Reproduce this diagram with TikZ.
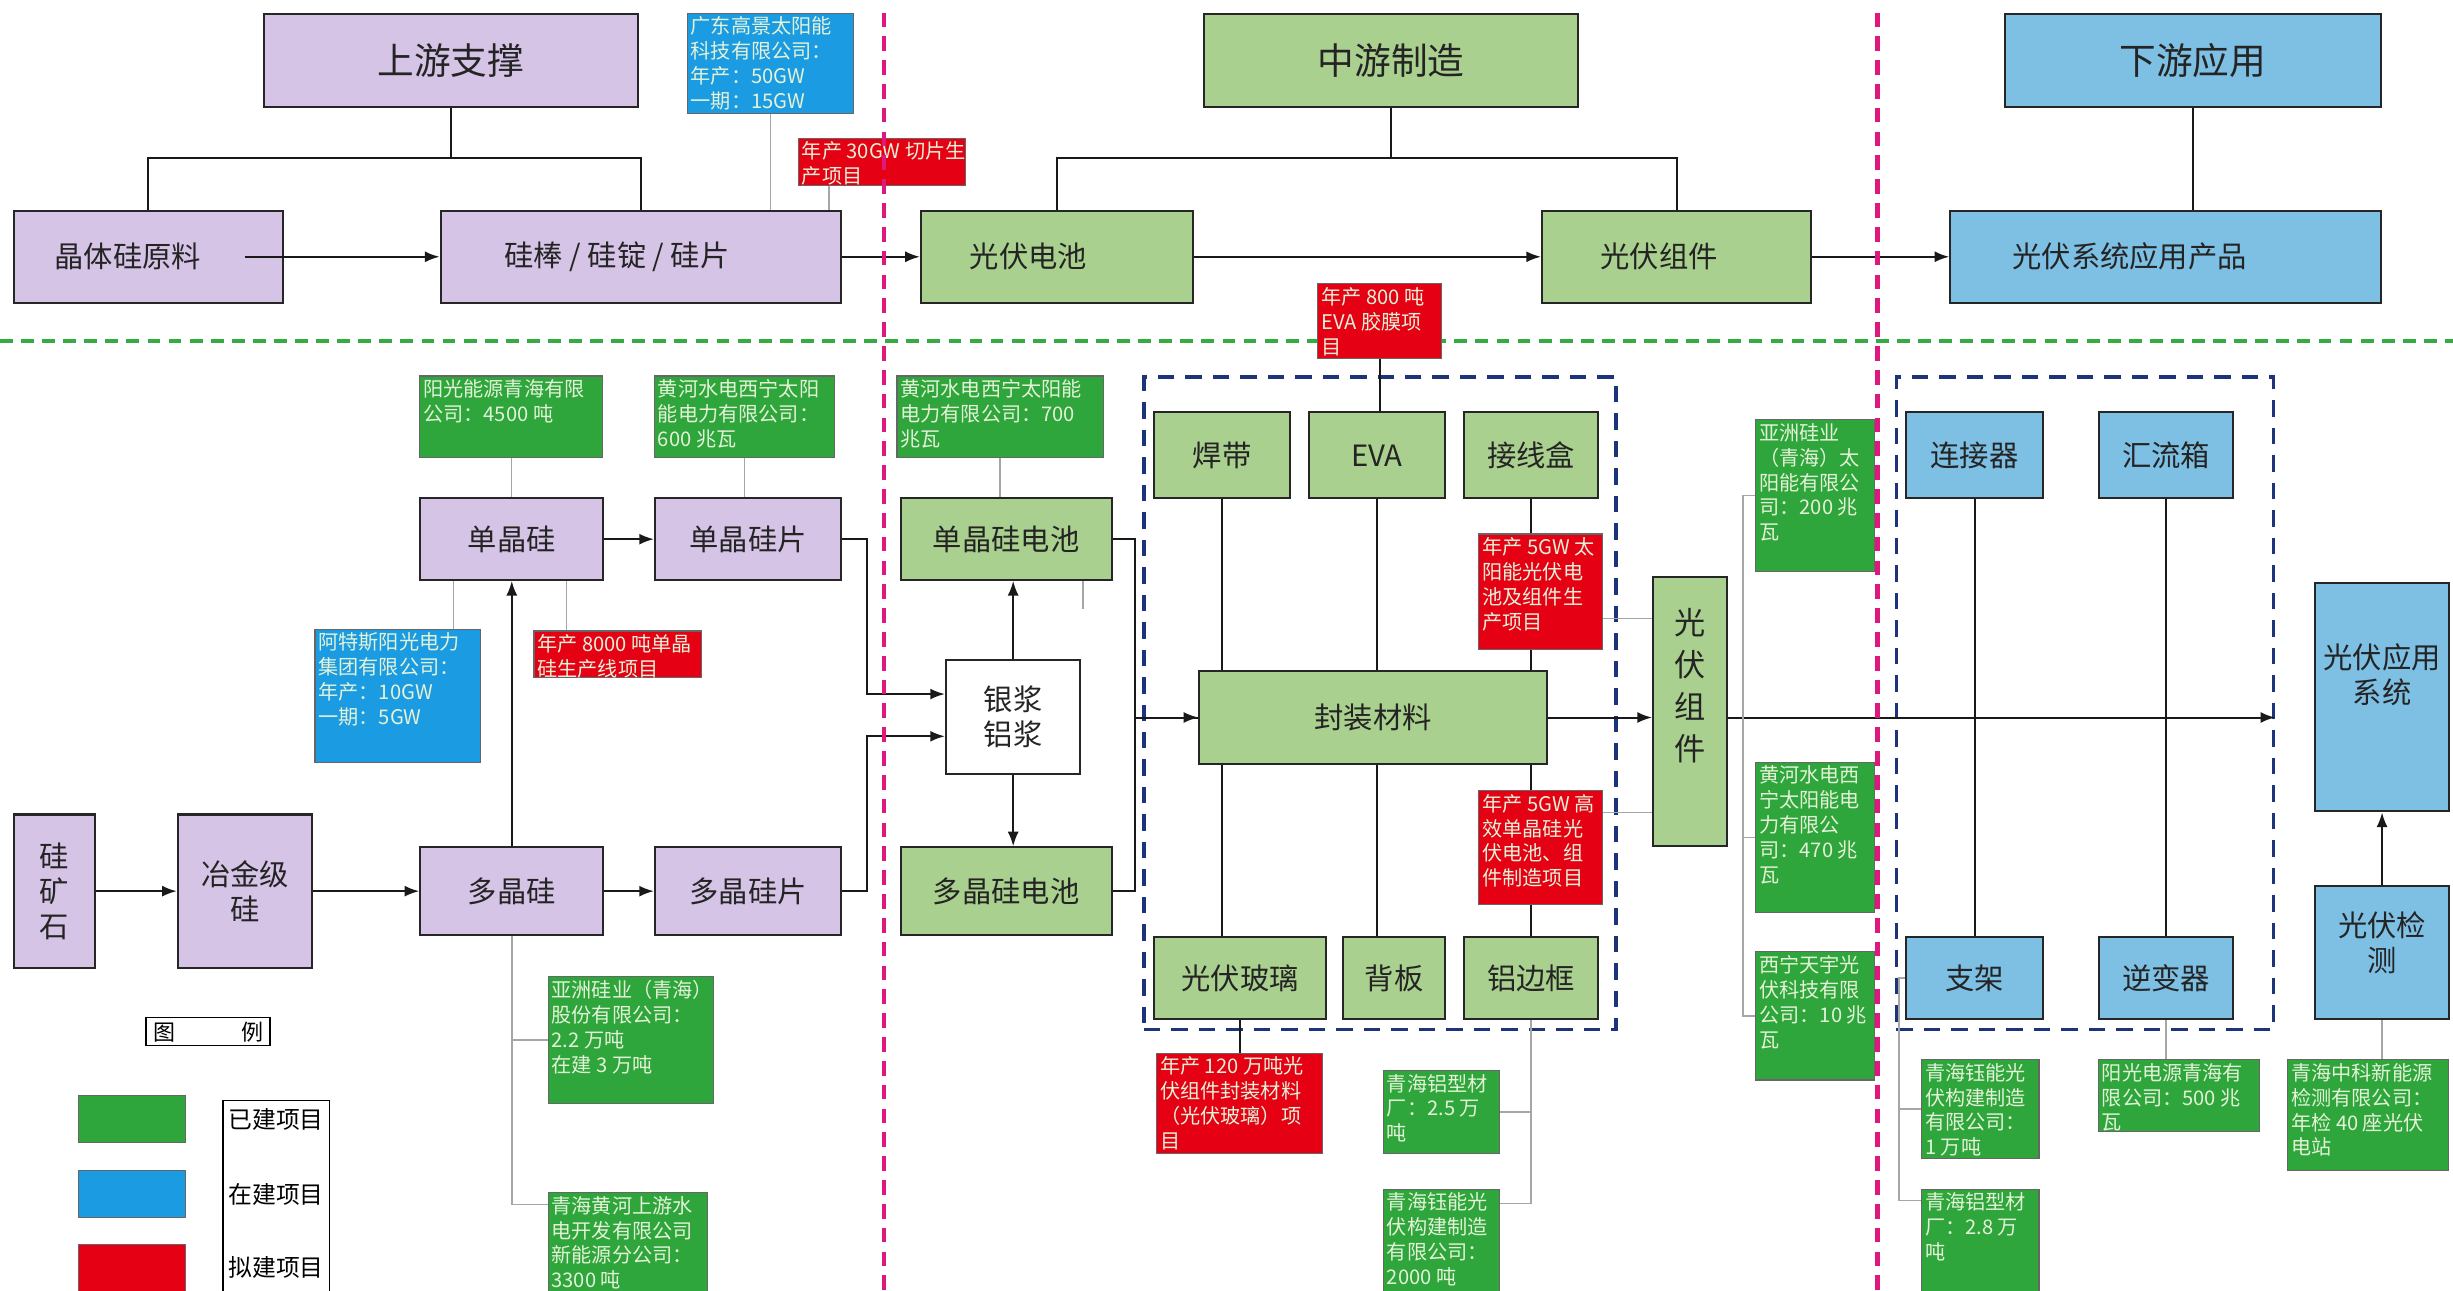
\documentclass[tikz,border=0pt]{standalone}
\usepackage{fontspec}
\setmainfont{Noto Sans CJK SC}
\usetikzlibrary{arrows.meta}
\definecolor{zpurple}{RGB}{214,196,231}
\definecolor{zgreen}{RGB}{169,208,142}
\definecolor{zblue}{RGB}{125,192,228}
\definecolor{cgreen}{RGB}{46,166,60}
\definecolor{cblue}{RGB}{27,155,225}
\definecolor{cred}{RGB}{229,0,20}
\definecolor{ctext}{RGB}{228,242,216}
\definecolor{zpink}{RGB}{222,24,124}
\definecolor{zdash}{RGB}{52,172,64}
\definecolor{znavy}{RGB}{30,52,122}
\definecolor{zink}{RGB}{36,36,36}
\begin{document}
\begin{tikzpicture}[x=0.03cm, y=-0.03cm, >={Latex[length=8pt,width=6pt]},
        corners/.style n args={4}{anchor=north west, at={(#1,#2)}, minimum width={(#3-#1)*0.03cm}, minimum height={(#4-#2)*0.03cm}},
        blk/.style = {draw=black!85, line width=1.1pt, inner sep=0pt, text=zink, align=center, font=\fontsize{16}{19}\selectfont},
        pbox/.style = {blk, fill=zpurple},
        gbox/.style = {blk, fill=zgreen},
        bbox/.style = {blk, fill=zblue},
        titlebox/.style = {font=\fontsize{20}{24}\selectfont},
        co/.style = {draw=black!60, line width=0.6pt, inner sep=0pt},
        cotext/.style = {anchor=north west, align=left, inner sep=2pt, text=ctext, font=\fontsize{11}{13.6}\selectfont},
        conn/.style = {line width=1.1pt, black!90},
        gconn/.style = {line width=0.8pt, black!35},
        grp/.style = {draw=znavy, line width=2pt, dash pattern=on 9pt off 6pt, inner sep=0pt},
        mline/.style = {draw=zpink, line width=2.6pt, dash pattern=on 8pt off 5pt},
        hline/.style = {draw=zdash, line width=2.2pt, dash pattern=on 7pt off 4.5pt}]

            \useasboundingbox (0,0) rectangle (1568,825);
            \fill[white] (0,0) rectangle (1568,825);
            \draw[hline] (0,218) -- (1568,218);

            \node[pbox, titlebox, corners={168}{8}{407}{68}] (sy) {上游支撑};
            \node[gbox, titlebox, corners={769}{8}{1008}{68}] (zy) {中游制造};
            \node[bbox, titlebox, corners={1281}{8}{1521}{68}] (xy) {下游应用};
            \node[pbox, corners={8}{134}{180}{193}] (jt) {晶体硅原料\kern22pt};
            \node[pbox, corners={281}{134}{537}{193}] (gb) {硅棒 / 硅锭 / 硅片\kern26pt};
            \node[gbox, corners={588}{134}{762}{193}] (gc) {光伏电池\kern31pt};
            \node[gbox, corners={985}{134}{1157}{193}] (gzt) {光伏组件\kern19pt};
            \node[bbox, corners={1246}{134}{1521}{193}] (gs) {光伏系统应用产品\kern39pt};

            \node[co, fill=cblue, corners={439}{8}{545}{72}] (gd) {};
            \node[cotext] (gdt) at (gd.north west) {广东高景太阳能\\科技有限公司：\\年产：50GW\\一期：15GW};
            \node[co, fill=cred, corners={510}{88}{617}{118}] (r30) {};
            \node[cotext] (r30t) at (r30.north west) {年产 30GW 切片生\\产项目};
            \node[co, fill=cred, corners={842}{181}{921}{229}] (r800) {};
            \node[cotext] (r800t) at (r800.north west) {年产 800 吨\\EVA 胶膜项\\目};

            \node[co, fill=cgreen, corners={268}{240}{385}{292}] (yg) {};
            \node[cotext] (ygt) at (yg.north west) {阳光能源青海有限\\公司：4500 吨};
            \node[co, fill=cgreen, corners={418}{240}{533}{292}] (hh6) {};
            \node[cotext] (hh6t) at (hh6.north west) {黄河水电西宁太阳\\能电力有限公司：\\600 兆瓦};
            \node[co, fill=cgreen, corners={573}{240}{705}{292}] (hh7) {};
            \node[cotext] (hh7t) at (hh7.north west) {黄河水电西宁太阳能\\电力有限公司：700\\兆瓦};

            \node[pbox, corners={268}{318}{385}{370}] (dj) {单晶硅};
            \node[pbox, corners={418}{318}{537}{370}] (djp) {单晶硅片};
            \node[gbox, corners={575}{318}{710}{370}] (djc) {单晶硅电池};
            \node[co, fill=cblue, corners={201}{402}{307}{487}] (ats) {};
            \node[cotext] (atst) at (ats.north west) {阿特斯阳光电力\\集团有限公司：\\年产：10GW\\一期：5GW};
            \node[co, fill=cred, corners={341}{403}{448}{433}] (r80) {};
            \node[cotext] (r80t) at (r80.north west) {年产 8000 吨单晶\\硅生产线项目};
            \node[blk, fill=white, corners={604}{421}{690}{494}] (ylj) {银浆\\铝浆};

            \node[pbox, corners={8}{520}{60}{618}] (ks) {硅\\矿\\石};
            \node[pbox, corners={113}{520}{199}{618}] (yj) {冶金级\\硅};
            \node[pbox, corners={268}{541}{385}{597}] (duo) {多晶硅};
            \node[pbox, corners={418}{541}{537}{597}] (dp) {多晶硅片};
            \node[gbox, corners={575}{541}{710}{597}] (dc) {多晶硅电池};
            \node[co, fill=cgreen, corners={350}{624}{456}{705}] (yz) {};
            \node[cotext] (yzt) at (yz.north west) {亚洲硅业（青海）\\股份有限公司：\\2.2 万吨\\在建 3 万吨};
            \node[co, fill=cgreen, corners={350}{762}{452}{830}] (qh) {};
            \node[cotext] (qht) at (qh.north west) {青海黄河上游水\\电开发有限公司\\新能源分公司：\\3300 吨};

            \node[draw, line width=0.8pt, inner sep=0pt, corners={93}{650}{172}{668}, font=\fontsize{12}{14}\selectfont] (tl) {图\hspace{3em}例};
            \node[co, fill=cgreen, corners={50}{700}{118}{730}] (lg1) {};
            \node[co, fill=cblue, corners={50}{748}{118}{778}] (lg2) {};
            \node[co, fill=cred, corners={50}{795}{118}{825}] (lg3) {};
            \node[draw, line width=0.8pt, inner sep=0pt, corners={142}{703}{210}{830}] (lgt) {};
            \node[font=\fontsize{13}{15}\selectfont] (lt1) at (lgt |- lg1) {已建项目};
            \node[font=\fontsize{13}{15}\selectfont] (lt2) at (lgt |- lg2) {在建项目};
            \node[font=\fontsize{13}{15}\selectfont] (lt3) at (lgt |- lg3) {拟建项目};

            \node[grp, corners={730}{240}{1032}{657}] (zbox) {};
            \node[gbox, corners={737}{263}{824}{318}] (hd) {焊带};
            \node[gbox, corners={836}{263}{923}{318}] (eva) {EVA};
            \node[gbox, corners={935}{263}{1021}{318}] (jxh) {接线盒};
            \node[gbox, corners={766}{428}{988}{488}] (fz) {封装材料};
            \node[gbox, corners={737}{598}{847}{651}] (bl) {光伏玻璃};
            \node[gbox, corners={858}{598}{923}{651}] (bb) {背板};
            \node[gbox, corners={935}{598}{1021}{651}] (lbk) {铝边框};
            \node[co, fill=cred, corners={945}{341}{1024}{415}] (rb1) {};
            \node[cotext] (rb1t) at (rb1.north west) {年产 5GW 太\\阳能光伏电\\池及组件生\\产项目};
            \node[co, fill=cred, corners={945}{505}{1024}{578}] (rb2) {};
            \node[cotext] (rb2t) at (rb2.north west) {年产 5GW 高\\效单晶硅光\\伏电池、组\\件制造项目};
            \node[gbox, corners={1056}{368}{1103}{540}, font=\fontsize{17}{23}\selectfont] (gz) {光\\伏\\组\\件\\[6pt]};
            \node[co, fill=cred, corners={739}{673}{845}{737}] (rg) {};
            \node[cotext] (rgt) at (rg.north west) {年产 120 万吨光\\伏组件封装材料\\（光伏玻璃）项\\目};
            \node[co, fill=cgreen, corners={884}{684}{958}{737}] (ql) {};
            \node[cotext] (qlt) at (ql.north west) {青海铝型材\\厂：2.5 万\\吨};
            \node[co, fill=cgreen, corners={884}{760}{958}{830}] (qy) {};
            \node[cotext] (qyt) at (qy.north west) {青海钰能光\\伏构建制造\\有限公司：\\2000 吨};

            \node[co, fill=cgreen, corners={1122}{268}{1198}{365}] (yz2) {};
            \node[cotext] (yz2t) at (yz2.north west) {亚洲硅业\\（青海）太\\阳能有限公\\司：200 兆\\瓦};
            \node[co, fill=cgreen, corners={1122}{487}{1198}{583}] (hh4) {};
            \node[cotext] (hh4t) at (hh4.north west) {黄河水电西\\宁太阳能电\\力有限公\\司：470 兆\\瓦};
            \node[co, fill=cgreen, corners={1122}{608}{1198}{690}] (xn) {};
            \node[cotext] (xnt) at (xn.north west) {西宁天宇光\\伏科技有限\\公司：10 兆\\瓦};

            \node[grp, corners={1211}{240}{1452}{657}] (xbox) {};
            \node[bbox, corners={1218}{263}{1305}{318}] (ljq) {连接器};
            \node[bbox, corners={1341}{263}{1427}{318}] (hlx) {汇流箱};
            \node[bbox, corners={1218}{598}{1305}{651}] (zj) {支架};
            \node[bbox, corners={1341}{598}{1427}{651}] (nb) {逆变器};
            \node[bbox, corners={1479}{372}{1565}{518}] (yy) {光伏应用\\系统\\[6.6pt]};
            \node[bbox, corners={1479}{566}{1565}{651}] (jc) {光伏检\\测\\[-7pt]};
            \node[co, fill=cgreen, corners={1228}{677}{1303}{740}] (qy2) {};
            \node[cotext] (qy2t) at (qy2.north west) {青海钰能光\\伏构建制造\\有限公司：\\1 万吨};
            \node[co, fill=cgreen, corners={1228}{760}{1303}{830}] (ql2) {};
            \node[cotext] (ql2t) at (ql2.north west) {青海铝型材\\厂：2.8 万\\吨};
            \node[co, fill=cgreen, corners={1341}{677}{1444}{723}] (yg2) {};
            \node[cotext] (yg2t) at (yg2.north west) {阳光电源青海有\\限公司：500 兆\\瓦};
            \node[co, fill=cgreen, corners={1462}{677}{1565}{748}] (zk) {};
            \node[cotext] (zkt) at (zk.north west) {青海中科新能源\\检测有限公司：\\年检 40 座光伏\\电站};

            \draw[conn] (sy.south) -- ++(0,32) coordinate (syj) -| (jt.north);
            \draw[conn] (syj) -| (gb.north);
            \draw[conn] (zy.south) -- ++(0,32) coordinate (zyj) -| (gc.north);
            \draw[conn] (zyj) -| (gzt.north);
            \draw[conn] (xy.south) -- (xy.south |- gs.north);
            \draw[conn, ->] ([xshift=-0.75cm]jt.east) -- (gb);
            \draw[conn, ->] (gb) -- (gc);
            \draw[conn, ->] (gc) -- (gzt);
            \draw[conn, ->] (gzt) -- (gs);
            \draw[conn] (r800.south) -- (r800.south |- eva.north);

            \draw[conn, ->] (ks) -- (yj);
            \draw[conn, ->] (yj) -- (duo);
            \draw[conn, ->] (duo) -- (dp);
            \draw[conn, ->] (dj) -- (djp);
            \draw[conn, ->] (duo) -- (dj);
            \draw[conn, ->] (djp.east) -- ++(16,0) |- ([yshift=0.435cm]ylj.west);
            \draw[conn, ->] (dp.east) -- ++(16,0) |- ([yshift=-0.375cm]ylj.west);
            \draw[conn, ->] (ylj) -- (ylj |- djc.south);
            \draw[conn, ->] (ylj) -- (ylj |- dc.north);
            \draw[conn, ->] (djc.east) -- ++(14,0) |- (fz.west);
            \draw[conn] (dc.east) -- ++(14,0) |- (fz.west);

            \draw[conn] (hd) -- (hd |- fz.north);
            \draw[conn] (eva) -- (eva |- fz.north);
            \draw[conn] (jxh) -- (jxh |- rb1.north);
            \draw[conn] (jxh |- rb1.south) -- (jxh |- fz.north);
            \draw[conn] (hd |- fz.south) -- (hd |- bl.north);
            \draw[conn] (eva |- fz.south) -- (eva |- bb.north);
            \draw[conn] (jxh |- fz.south) -- (jxh |- rb2.north);
            \draw[conn] (jxh |- rb2.south) -- (jxh |- lbk.north);
            \draw[conn] (bl) -- (bl |- rg.north);
            \draw[conn, ->] (fz.east) -- (fz.east -| gz.west);
            \coordinate (yyin) at (fz.east -| xbox.east);
            \draw[conn, ->] (fz.east -| gz.east) -- (yyin);
            \draw[conn] (ljq) -- (ljq |- zj.north);
            \draw[conn] (hlx) -- (hlx |- nb.north);
            \draw[conn, ->] (jc) -- (yy);

            \draw[gconn] (gd) -- (gd |- gb.north);
            \draw[gconn] ([xshift=0.6cm]r30.south west) -- ([xshift=0.6cm]r30.south west |- gb.north);
            \draw[gconn] (yg) -- (yg |- dj.north);
            \draw[gconn] (hh6) -- (hh6 |- djp.north);
            \draw[gconn] (hh7) -- (hh7 |- djc.north);
            \draw[gconn] ([xshift=0.66cm]dj.south west) -- ([xshift=0.66cm]dj.south west |- ats.north);
            \draw[gconn] ([xshift=0.63cm]r80.north west) -- ([xshift=0.63cm]r80.north west |- dj.south);
            \draw[gconn] ([xshift=-0.57cm]djc.south east) -- ++(0,18);
            \draw[gconn] (duo.south) |- ([yshift=-0.24cm]qh.north west);
            \draw[gconn] (duo.south |- yz.west) -- (yz.west);
            \draw[gconn] ([yshift=-0.51cm]rb1.east) -- ([yshift=-0.51cm]rb1.east -| gz.west);
            \draw[gconn] ([yshift=0.675cm]rb2.east) -- ([yshift=0.675cm]rb2.east -| gz.west);
            \coordinate (gzr) at ([xshift=0.3cm]gz.east);
            \draw[gconn] (yz2.west) -| (gzr |- xn.west) -- (xn.west);
            \draw[gconn] (gzr |- hh4.west) -- (hh4.west);
            \draw[gconn] (lbk.south) |- ([yshift=0.78cm]qy.east);
            \draw[gconn] (lbk.south |- ql.east) -- (ql.east);
            \coordinate (zjb) at ([xshift=-0.12cm]zj.west);
            \draw[gconn] (zj.west) -- (zjb) |- ([yshift=0.84cm]ql2.west);
            \draw[gconn] (zjb |- qy2.west) -- (qy2.west);
            \draw[gconn] (nb) -- (nb |- yg2.north);
            \draw[gconn] (jc) -- (jc |- zk.north);

            \draw[mline] (565,8) -- (565,830);
            \draw[mline] (1200,8) -- (1200,830);
        \end{tikzpicture}
\end{document}
